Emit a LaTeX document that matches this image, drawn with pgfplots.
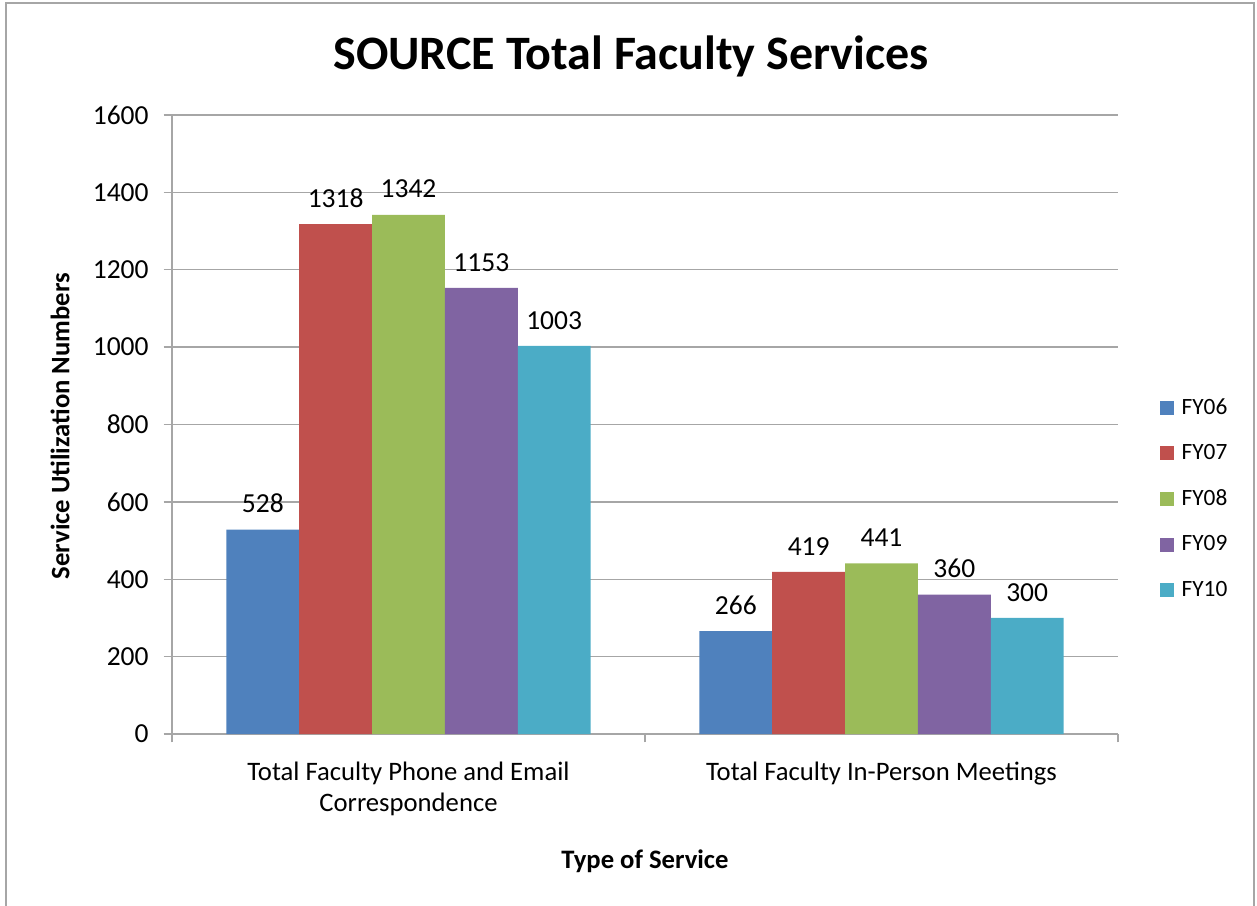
\documentclass[border=0pt]{standalone}
\usepackage{pgfplots}
\pgfplotsset{compat=1.18}
\usepackage{fontspec}
\setmainfont{Carlito}
\definecolor{c1}{HTML}{4F81BD}
\definecolor{c2}{HTML}{C0504D}
\definecolor{c3}{HTML}{9BBB59}
\definecolor{c4}{HTML}{8064A2}
\definecolor{c5}{HTML}{4BACC6}
\definecolor{gridc}{HTML}{A6A6A6}
\begin{document}
\begin{tikzpicture}[x=0.6pt,y=0.6pt]
\path[use as bounding box] (0,0) rectangle (1257,905);
\draw[color=gray!70, line width=1.2pt] (6,-2) -- (6,902) -- (1254,902) -- (1254,-2);
\node[font=\fontsize{28.8}{34}\selectfont\bfseries] at (631,849) {SOURCE Total Faculty Services};
\node[font=\fontsize{16}{19}\selectfont\bfseries, rotate=90] at (60,479) {Service Utilization Numbers};
\node[font=\fontsize{16}{19}\selectfont\bfseries] at (645,44) {Type of Service};
\begin{axis}[
  at={(103.2pt,102.6pt)}, anchor=south west,
  scale only axis,
  width=567.6pt, height=371.4pt,
  xmin=-0.5, xmax=1.5, ymin=0, ymax=1600,
  ytick distance=200,
  ymajorgrids, grid style={gridc, line width=0.8pt},
  axis lines*=left,
  axis line style={gridc, line width=0.8pt},
  tick style={gridc, line width=0.8pt},
  tick align=outside,
  major tick length=5pt,
  xtick={-0.5,0.5,1.5}, xticklabels={},
  extra x ticks={0,1},
  extra x tick labels={{Total Faculty Phone and Email\\Correspondence},{Total Faculty In-Person Meetings}},
  extra x tick style={major tick length=0pt, grid=none,
     tick label style={align=center, font=\fontsize{16}{18.6}\selectfont, yshift=-13pt}},
  yticklabel style={font=\fontsize{16.5}{19}\selectfont, xshift=-5.5pt},
  /pgf/number format/assume math mode=true,
  /pgf/number format/1000 sep={},
  ybar=0pt, bar width=0.154,
  nodes near coords,
  every node near coord/.append style={font=\fontsize{16.5}{19}\selectfont, yshift=6.5pt, color=black},
  legend style={at={(1.044,0.548)}, anchor=north west, draw=none, fill=none,
     font=\fontsize{14}{16}\selectfont, row sep=12.6pt, inner sep=0pt,
     legend cell align=left},
  legend image code/.code={\fill[#1] (0pt,-4.2pt) rectangle (8.4pt,4.2pt); \path (11pt,0pt);},
]
\addplot[fill=c1, draw=none] coordinates {(0,528) (1,266)};
\addplot[fill=c2, draw=none] coordinates {(0,1318) (1,419)};
\addplot[fill=c3, draw=none] coordinates {(0,1342) (1,441)};
\addplot[fill=c4, draw=none] coordinates {(0,1153) (1,360)};
\addplot[fill=c5, draw=none] coordinates {(0,1003) (1,300)};
\legend{FY06,FY07,FY08,FY09,FY10}
\end{axis}
\end{tikzpicture}
\end{document}
